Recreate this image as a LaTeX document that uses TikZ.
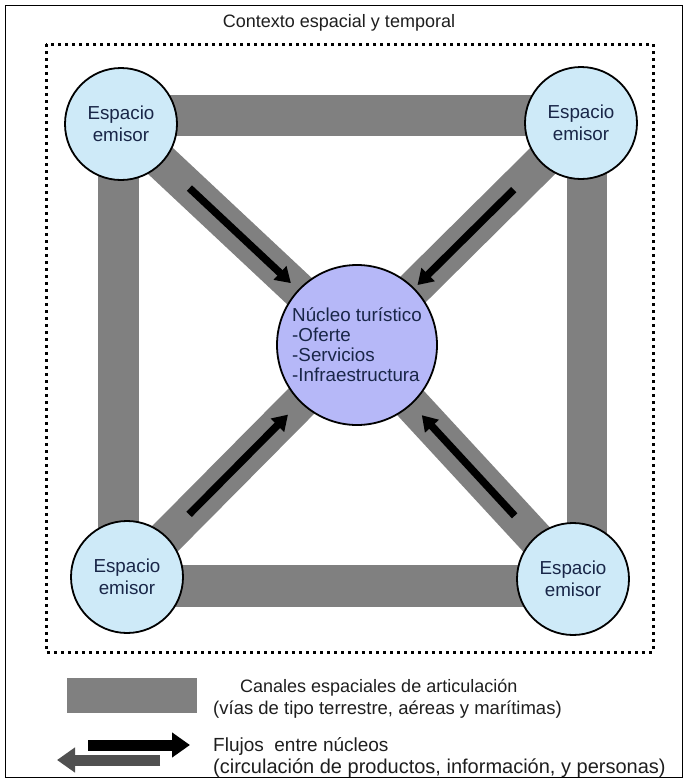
\documentclass[tikz,border=0pt]{standalone}
\usepackage{fontspec}
\setmainfont{Liberation Sans}
\usetikzlibrary{calc,arrows.meta}
\definecolor{barg}{RGB}{128,128,128}
\definecolor{darkflow}{RGB}{80,80,80}
\definecolor{emis}{RGB}{206,234,248}
\definecolor{nuc}{RGB}{182,184,248}
\definecolor{navy}{RGB}{25,38,72}
\definecolor{txt}{RGB}{30,30,30}
\begin{document}
\begin{tikzpicture}[x=1pt,y=-1pt,
  emisor/.style={circle,draw=black,line width=1.8pt,fill=emis,minimum size=112pt,inner sep=0pt,align=center,text=navy,font=\fontsize{18.8}{22}\selectfont},
  nucleo/.style={circle,draw=black,line width=1.8pt,fill=nuc,minimum size=160pt,inner sep=0pt,align=left,text=navy,font=\fontsize{18.8}{20}\selectfont},
  canal/.style={fill=barg,draw=none},
  diag/.style={draw=barg,line width=36pt},
  flujo/.style={-{Triangle[length=15pt,width=18pt]},line width=7.5pt,draw=black},
  legflujo/.style={-{Triangle[length=18pt,width=24pt]},line width=11pt},
  lbl/.style={font=\fontsize{18.5}{21}\selectfont,text=txt,inner sep=0pt}
]
\useasboundingbox (0,0) rectangle (687,782);
\fill[white] (0,0) rectangle (687,782);
\draw[line width=1pt] (5,5) rectangle (682,777);
\draw[line width=3pt,dash pattern=on 3pt off 4pt] (46,44) rectangle (653,652);
\node[lbl,font=\fontsize{18}{21}\selectfont] (title) at (339,23) {Contexto espacial y temporal};

\coordinate (ptl) at (121,124);
\coordinate (ptr) at (581,123);
\coordinate (pbl) at (127,577);
\coordinate (pbr) at (573,579);
\coordinate (pc) at (357,345);

% straight channels
\fill[canal] (121,95) rectangle (581,136);
\fill[canal] (98,124) rectangle (139,577);
\fill[canal] (567,123) rectangle (607,579);
\fill[canal] (127,565) rectangle (573,607);
% diagonal channels
\draw[diag] (ptl) -- (pc);
\draw[diag] (ptr) -- (pc);
\draw[diag] (pbl) -- (pc);
\draw[diag] (pbr) -- (pc);
% flows
\draw[flujo] ($(ptl)!0.29!(pc)$) -- ($(ptl)!0.72!(pc)$);
\draw[flujo] ($(ptr)!0.30!(pc)$) -- ($(ptr)!0.73!(pc)$);
\draw[flujo] ($(pbl)!0.27!(pc)$) -- ($(pbl)!0.70!(pc)$);
\draw[flujo] ($(pbr)!0.27!(pc)$) -- ($(pbr)!0.70!(pc)$);

\node[emisor] (tl) at (ptl) {Espacio\\emisor};
\node[emisor] (tr) at (ptr) {Espacio\\emisor};
\node[emisor] (bl) at (pbl) {Espacio\\emisor};
\node[emisor] (br) at (pbr) {Espacio\\emisor};
\node[nucleo] (c) at (pc) {Núcleo turístico\\-Oferte\\-Servicios\\-Infraestructura};

% legend
\node[fill=barg,minimum width=130pt,minimum height=35pt,inner sep=0pt] (lcanal) at (132,695.5) {};
\node[lbl,anchor=west,font=\fontsize{18}{21}\selectfont] (lc1) at (240,688) {Canales espaciales de articulación};
\node[lbl,anchor=west] (lc2) at (213,710) {(vías de tipo terrestre, aéreas y marítimas)};
\coordinate (lgA) at (160,760);
\coordinate (lgB) at (57,760);
\coordinate (lbA) at (88,745);
\coordinate (lbB) at (190,745);
\draw[legflujo,draw=darkflow] (lgA) -- (lgB);
\draw[legflujo,draw=black] (lbA) -- (lbB);
\node[lbl,anchor=west,font=\fontsize{19}{21}\selectfont] (lf1) at (213,746) {Flujos\ \ entre núcleos};
\node[lbl,anchor=west,font=\fontsize{20}{22}\selectfont] (lf2) at (213,768) {(circulación de productos, información, y personas)};
\end{tikzpicture}
\end{document}
